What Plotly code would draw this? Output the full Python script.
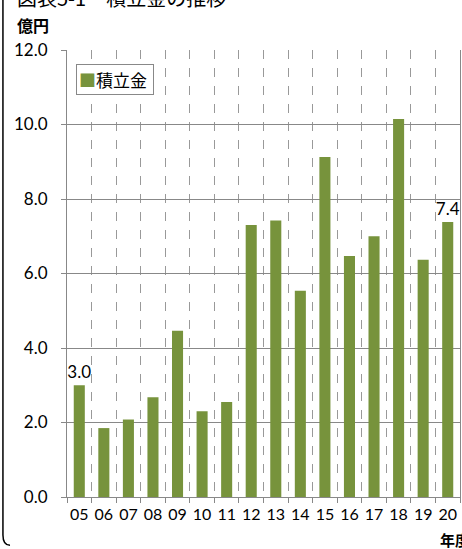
"""
積立金の推移 chart.
"""

import plotly.graph_objects as go

# data
years = ["05", "06", "07", "08", "09", "10", "11", "12",
         "13", "14", "15", "16", "17", "18", "19", "20"]
reserve = [3.0, 1.85, 2.08, 2.68, 4.46, 2.3, 2.55, 7.3,
           7.42, 5.54, 9.13, 6.47, 7.0, 10.15, 6.37, 7.38]
bar_labels = ["3.0", "", "", "", "", "", "", "",
              "", "", "", "", "", "", "", "7.4"]
y_ticks = [0, 2, 4, 6, 8, 10, 12]
y_tick_text = ["0.0", "2.0", "4.0", "6.0", "8.0", "10.0", "12.0"]

GREEN = '#77933C'
FONT = "Lato, 'Noto Sans CJK JP', sans-serif"
JP_FONT = "'Noto Sans CJK JP', sans-serif"

fig = go.Figure()

fig.add_trace(go.Bar(
    x=years,
    y=reserve,
    name='積立金',
    marker=dict(color=GREEN, line=dict(width=0)),
    text=bar_labels,
    textposition='outside',
    constraintext='none',
    cliponaxis=False,
    textfont=dict(size=17, color='#000000', family=FONT),
    showlegend=False,
))

fig.update_layout(
    width=462,
    height=549,
    margin=dict(l=67, r=2, t=50, b=52),
    paper_bgcolor='white',
    plot_bgcolor='white',
    bargap=0.55,
    font=dict(family=FONT, size=16, color='#000000'),
    showlegend=False,
    xaxis=dict(
        type='category',
        tickson='boundaries',
        tickangle=0,
        ticks='outside', ticklen=5, tickcolor='#888888',
        showgrid=True, gridcolor='#999999', griddash='dash', gridwidth=1,
        showline=True, linecolor='#888888', linewidth=1,
        tickfont=dict(size=16),
        ticklabelstandoff=3,
    ),
    yaxis=dict(
        range=[0, 12],
        tickvals=y_ticks,
        ticktext=y_tick_text,
        ticks='outside', ticklen=5, tickcolor='#888888',
        showgrid=True, gridcolor='#888888', gridwidth=1,
        showline=True, linecolor='#888888', linewidth=1, mirror=True,
        zeroline=False,
        tickfont=dict(size=17),
        ticklabelstandoff=10,
    ),
)

# legend box drawn as a bordered annotation (small square + label)
fig.add_annotation(
    text=f"<span style='color:{GREEN}'>■</span>積立金 ",
    xref='paper', yref='paper',
    x=0.023, y=0.968, xanchor='left', yanchor='top',
    showarrow=False, font=dict(family=JP_FONT, size=17),
    bgcolor='white', bordercolor='#888888', borderwidth=1, borderpad=2,
)

# title, partly cut off at the top edge as in the source
fig.add_annotation(
    text='図表5-1　積立金の推移', xref='paper', yref='paper',
    x=-0.132, y=1.118, xanchor='left', yanchor='middle',
    showarrow=False, font=dict(family=JP_FONT, size=20),
)
fig.add_annotation(
    text='<b>億円</b>', xref='paper', yref='paper',
    x=-0.132, y=1.056, xanchor='left', yanchor='middle',
    showarrow=False, font=dict(family=JP_FONT, size=16),
)
fig.add_annotation(
    text='<b>年度</b>', xref='paper', yref='paper',
    x=0.945, y=-0.095, xanchor='left', yanchor='middle',
    showarrow=False, font=dict(family=JP_FONT, size=15),
)

# outer rounded frame (left edge only visible)
fig.add_shape(
    type='path', xref='paper', yref='paper',
    path='M -0.163 1.2 L -0.163 -0.085 Q -0.163 -0.108 -0.145 -0.108',
    line=dict(color='#000000', width=1.5),
)

fig.write_html("out.html", config={'displayModeBar': False},
               post_script="document.body.style.margin='0';")
